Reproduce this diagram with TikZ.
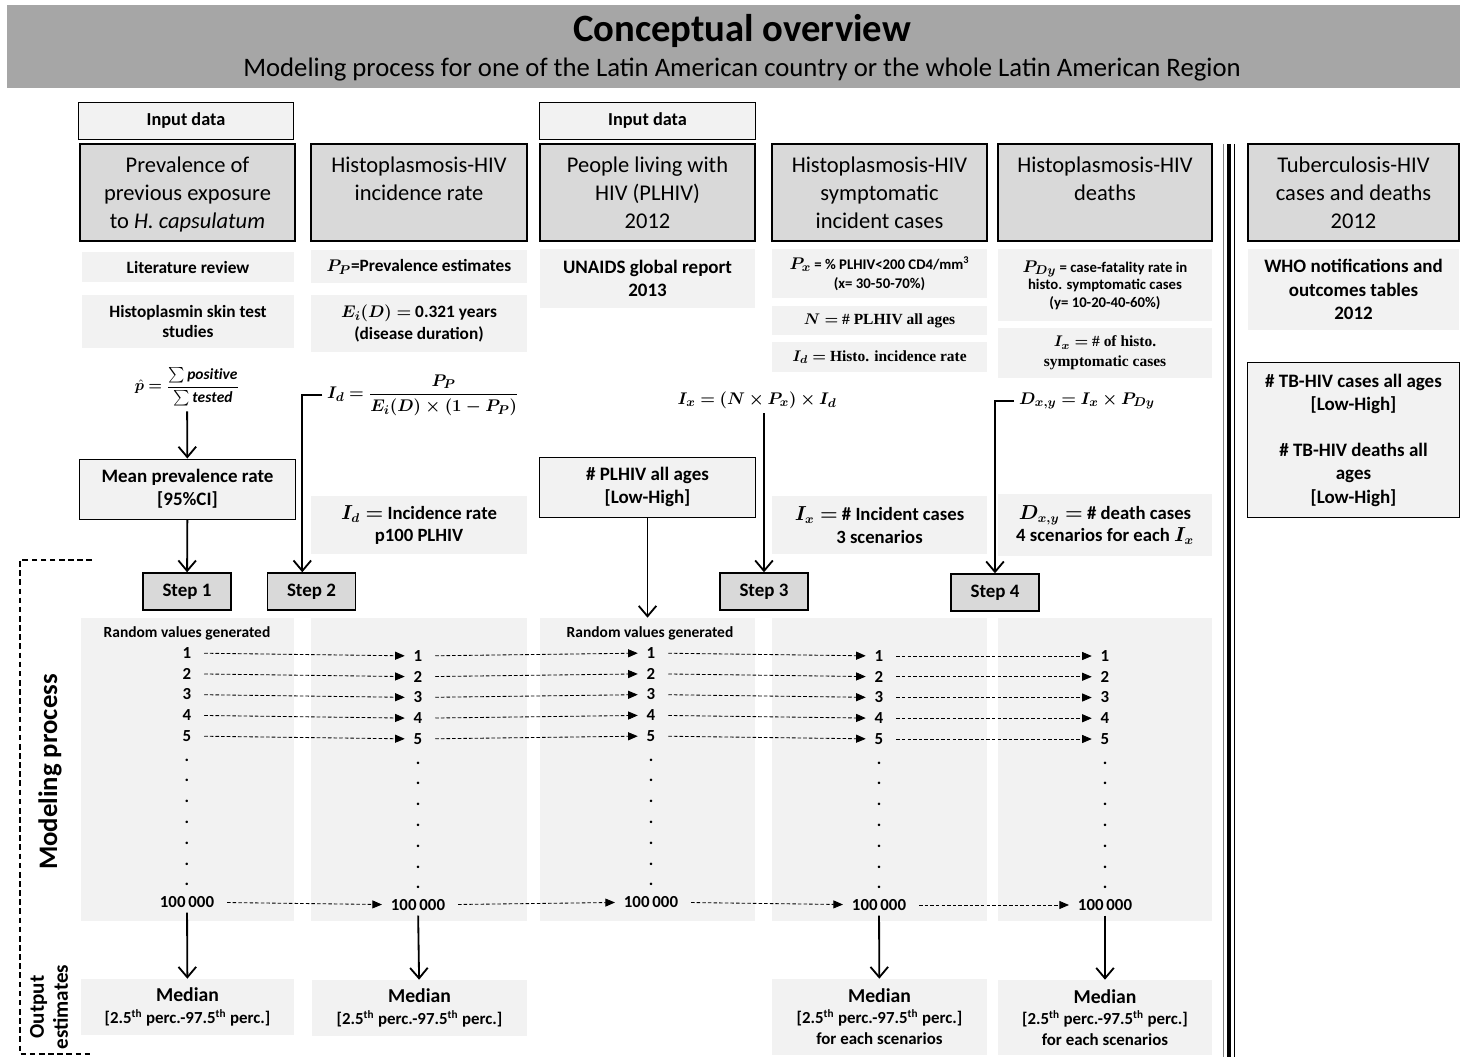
\documentclass[tikz,border=0pt]{standalone}
\usepackage{fontspec}
\usepackage{amsmath}
\usepackage{amssymb}
\usepackage{bm}
\setmainfont{Carlito}
\newfontfamily\cambria{Liberation Serif}
\usepackage{tikz}
\usetikzlibrary{arrows.meta}
\usetikzlibrary{positioning}

\definecolor{bandgray}{HTML}{A6A6A6}
\definecolor{boxgray}{HTML}{D9D9D9}
\definecolor{litegray}{HTML}{F2F2F2}

\begin{document}
\begin{tikzpicture}[x=0.025cm, y=-0.025cm,
  topic/.style={rectangle, draw=black, line width=1.8pt, fill=boxgray, inner sep=0pt, minimum height=2.425cm, text depth=0pt, align=center, font=\fontsize{16}{20}\selectfont},
  inbox/.style={rectangle, draw=black, line width=0.7pt, fill=litegray, inner sep=0pt, align=center, font=\bfseries\fontsize{13.5}{16.5}\selectfont},
  info/.style={rectangle, fill=litegray, inner sep=0pt, align=center, font=\bfseries\fontsize{12.3}{14.5}\selectfont},
  serifinfo/.style={info, font=\cambria\bfseries\fontsize{11}{14}\selectfont},
  stepbox/.style={rectangle, draw=black, line width=1pt, fill=boxgray, minimum width=2.2cm, minimum height=0.925cm, font=\bfseries\fontsize{13.5}{15}\selectfont},
  panel/.style={rectangle, fill=litegray, inner sep=0pt, minimum height=7.575cm},
  num/.style={font=\bfseries\fontsize{12}{13}\selectfont},
  dotmark/.style={font=\bfseries\fontsize{12}{13}\selectfont, inner sep=1pt},
  fml/.style={font=\fontsize{13}{16}\selectfont},
  flow/.style={-{Straight Barb[length=2.6mm,width=4.4mm]}, line width=1.3pt},
  link/.style={-{Triangle[length=2.4mm,width=2mm]}, line width=0.6pt, dash pattern=on 2.5pt off 1.5pt, shorten <=2mm, shorten >=1mm}
]
\useasboundingbox (0,0) rectangle (1460,1057);

% title band
\fill[bandgray] (7,5) rectangle (1460,88);
\node[font=\bfseries\fontsize{27.5}{30}\selectfont] (title) at (742,31) {Conceptual overview};
\node[font=\fontsize{19}{22}\selectfont] (subtitle) at (742,70) {Modeling process for one of the Latin American country or the whole Latin American Region};

% input data labels
\node[inbox, minimum width=5.35cm, minimum height=0.925cm, font=\bfseries\fontsize{13}{15}\selectfont] (in1) at (186,121) {Input data};
\node[inbox, minimum width=5.375cm, minimum height=0.925cm, font=\bfseries\fontsize{13}{15}\selectfont] (in3) at (647.5,121) {Input data};

% topic boxes
\node[topic, minimum width=5.375cm] (hd1) at (187.5,192.5) {Prevalence of\\previous exposure\\to \textit{H. capsulatum}};
\node[topic, minimum width=5.4cm] (hd2) at (419,192.5) {Histoplasmosis-HIV\\incidence rate\\~};
\node[topic, minimum width=5.375cm] (hd3) at (647.5,192.5) {People living with\\HIV (PLHIV)\\2012};
\node[topic, minimum width=5.375cm] (hd4) at (879.5,192.5) {Histoplasmosis-HIV\\symptomatic\\incident cases};
\node[topic, minimum width=5.35cm] (hd5) at (1105,192.5) {Histoplasmosis-HIV\\deaths\\~};
\node[topic, minimum width=5.275cm] (hd6) at (1353.5,192.5) {Tuberculosis-HIV\\cases and deaths\\2012};

% sources
\node[info, minimum width=5.3cm, minimum height=0.75cm] (src1a) at (188,267) {Literature review};
\node[info, minimum width=5.3cm, minimum height=1.325cm] (src1b) at (188,321.5) {Histoplasmin skin test\\studies};
\node[info, minimum width=5.4cm, minimum height=0.825cm] (src2a) at (419,266.5) {{\fontsize{13}{14}\selectfont$\bm{P_P}$}=Prevalence estimates};
\node[info, minimum width=5.4cm, minimum height=1.425cm, font=\bfseries\fontsize{12.3}{15}\selectfont] (src2b) at (419,323.5) {$\bm{E_i(D) =}$ 0.321 years\\(disease duration)};
\node[info, minimum width=5.375cm, minimum height=1.475cm, font=\bfseries\fontsize{13.5}{16.5}\selectfont] (src3) at (647.5,278.5) {UNAIDS global report\\2013};
\node[info, minimum width=5.375cm, minimum height=1.225cm, font=\bfseries\fontsize{10.5}{13.5}\selectfont] (src4a) at (879.5,273.5) {{\fontsize{12.5}{13.5}\selectfont$\bm{P_x}$} = \% PLHIV<200 CD4/mm\textsuperscript{3}\\(x= 30-50-70\%)};
\node[serifinfo, minimum width=5.375cm, minimum height=0.725cm] (src4b) at (879.5,320.5) {$\bm{N =}$ \# PLHIV all ages};
\node[serifinfo, minimum width=5.375cm, minimum height=0.75cm] (src4c) at (879.5,357) {$\bm{I_d =}$ Histo. incidence rate};
\node[info, minimum width=5.35cm, minimum height=1.8cm, font=\bfseries\fontsize{10.5}{12.5}\selectfont] (src5a) at (1105,285) {{\fontsize{13}{14}\selectfont$\bm{P_{Dy}}$} = case-fatality rate in\\histo. symptomatic cases\\(y= 10-20-40-60\%)};
\node[serifinfo, minimum width=5.35cm, minimum height=1.25cm] (src5b) at (1105,353) {$\bm{I_x =}$ \# of histo.\\symptomatic cases};
\node[info, minimum width=5.275cm, minimum height=2.025cm, font=\bfseries\fontsize{13.5}{16.5}\selectfont] (src6) at (1353.5,289.5) {WHO notifications and\\outcomes tables\\2012};

% formulas
\node[fml, font=\fontsize{11}{14}\selectfont] (fml1) at (187,387) {$\bm{\hat{p}=\dfrac{\sum \mathit{positive}}{\sum \mathit{tested}}}$};
\node[fml] (fml2) at (423,395) {$\bm{I_d = \dfrac{P_P}{E_i(D)\times(1-P_P)}}$};
\node[fml] (fml3) at (757,400) {$\bm{I_x = (N\times P_x)\times I_d}$};
\node[fml] (fml5) at (1087,401) {$\bm{D_{x,y} = I_x\times P_{Dy}}$};

% summaries
\node[inbox, minimum width=5.375cm, minimum height=1.5cm] (mean) at (187.5,489) {Mean prevalence rate\\{[95\%CI]}};
\node[inbox, minimum width=5.375cm, minimum height=1.5cm] (plhiv) at (647.5,487) {\# PLHIV all ages\\{[Low-High]}};
\node[inbox, minimum width=5.275cm, minimum height=3.85cm] (tbhiv) at (1353.5,440) {\# TB-HIV cases all ages\\{[Low-High]}\\~\\\# TB-HIV deaths all\\ages\\{[Low-High]}};
\node[info, minimum width=5.4cm, minimum height=1.45cm, font=\bfseries\fontsize{13.3}{16}\selectfont] (res2) at (419,525) {$\bm{I_d =}$ Incidence rate\\p100 PLHIV};
\node[info, minimum width=5.375cm, minimum height=1.45cm, font=\bfseries\fontsize{13.3}{16}\selectfont] (res4) at (879.5,525) {$\bm{I_x =}$ \# Incident cases\\3 scenarios};
\node[info, minimum width=5.35cm, minimum height=1.55cm, font=\bfseries\fontsize{13.3}{16}\selectfont] (res5) at (1105,525) {$\bm{D_{x,y} =}$ \# death cases\\4 scenarios for each $\bm{I_x}$};

% steps
\node[stepbox] (step1) at (187,591.5) {Step 1};
\node[stepbox] (step2) at (311.5,591.5) {Step 2};
\node[stepbox] (step3) at (764,591.5) {Step 3};
\node[stepbox] (step4) at (995,592.5) {Step 4};

% simulation panels
\node[panel, minimum width=5.325cm] (pan1) at (187.5,769.5) {};
\node[panel, minimum width=5.4cm] (pan2) at (419,769.5) {};
\node[panel, minimum width=5.375cm] (pan3) at (647.5,769.5) {};
\node[panel, minimum width=5.375cm] (pan4) at (879.5,769.5) {};
\node[panel, minimum width=5.35cm] (pan5) at (1105,769.5) {};
\node[font=\bfseries\fontsize{11}{12}\selectfont] (rand1) at (187,633) {Random values generated};
\node[font=\bfseries\fontsize{11}{12}\selectfont] (rand3) at (650,633) {Random values generated};

\foreach \c/\x/\d in {1/187/0, 2/418/3, 3/651/0, 4/879/3, 5/1105/3} {
  \foreach \r in {1,...,5}
    \node[num] (n\c-\r) at (\x, {653+\d+20.75*(\r-1)}) {\r};
  \foreach \r in {1,...,7}
    \node[dotmark] (d\c-\r) at (\x, {760+\d+20.8*(\r-1)}) {.};
  \node[num] (n\c-6) at (\x, {902+\d}) {100\,000};
}
\foreach \a/\b in {1/2, 2/3, 3/4, 4/5}
  \foreach \r in {1,...,6}
    \draw[link] (n\a-\r) -- (n\b-\r);

% outputs
\node[info, minimum width=5.325cm, minimum height=1.4cm, font=\bfseries\fontsize{12}{15.5}\selectfont] (med1) at (187.5,1007) {{\fontsize{14}{16}\selectfont Median}\\{[2.5\textsuperscript{th} perc.-97.5\textsuperscript{th} perc.]}};
\node[info, minimum width=5.375cm, minimum height=1.4cm, font=\bfseries\fontsize{12}{15.5}\selectfont] (med2) at (419.5,1008) {{\fontsize{14}{16}\selectfont Median}\\{[2.5\textsuperscript{th} perc.-97.5\textsuperscript{th} perc.]}};
\node[info, minimum width=5.375cm, minimum height=1.9cm, font=\bfseries\fontsize{12}{15}\selectfont] (med4) at (879.5,1017) {{\fontsize{14}{16}\selectfont Median}\\{[2.5\textsuperscript{th} perc.-97.5\textsuperscript{th} perc.]}\\for each scenarios};
\node[info, minimum width=5.35cm, minimum height=1.875cm, font=\bfseries\fontsize{12}{15}\selectfont] (med5) at (1105,1017.5) {{\fontsize{14}{16}\selectfont Median}\\{[2.5\textsuperscript{th} perc.-97.5\textsuperscript{th} perc.]}\\for each scenarios};

% arrows
\draw[flow] (fml1) -- (mean);
\draw[flow] (mean) -- (step1);
\draw[flow] (fml2.west) -| ([xshift=-0.23cm]step2.north);
\draw[flow] (plhiv) -- (pan3);
\draw[flow] (step3.north |- fml3.south) -- (step3.north);
\draw[flow] (fml5.west) -| (step4.north);
\foreach \c in {1,2,4,5}
  \draw[flow] (n\c-6) -- (med\c);

% side labels
\draw[line width=1pt, dash pattern=on 4pt off 2.5pt] (92,560) -- (20,560) -- (20,1054) -- (90,1054);
\node[rotate=90, font=\bfseries\fontsize{19}{22}\selectfont] (lblmod) at (50,772) {Modeling process};
\node[rotate=90, align=center, font=\bfseries\fontsize{15}{17}\selectfont] (lblout) at (49,1007) {Output\\estimates};

% separator
\draw[line width=0.5pt, gray] (1223,144) -- (1223,1057);
\draw[line width=2.3pt] (1229,144) -- (1229,1057);
\draw[line width=0.6pt] (1234.5,144) -- (1234.5,1057);
\end{tikzpicture}
\end{document}
